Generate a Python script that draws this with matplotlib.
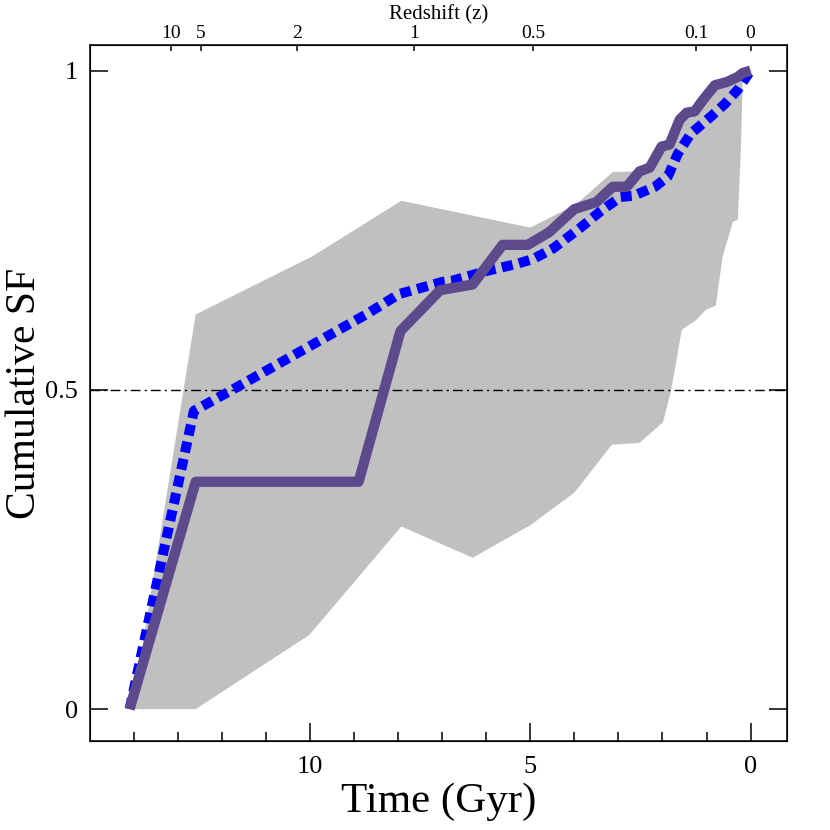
import matplotlib
matplotlib.use("Agg")
import matplotlib.pyplot as plt
import numpy as np

plt.rcParams['font.family'] = ['Liberation Serif', 'DejaVu Serif']

# %% data (lookback time in Gyr, cumulative SF fraction)
t_purple = [14.10, 12.60, 8.90, 7.95, 7.05, 6.31, 5.63, 5.06, 4.57, 4.00, 3.50, 3.13,
            2.81, 2.52, 2.29, 2.02, 1.84, 1.61, 1.45, 1.27, 1.08, 0.81, 0.54, 0.29,
            0.18, 0.00]
sf_purple = [0.000, 0.356, 0.356, 0.592, 0.656, 0.665, 0.727, 0.727, 0.747, 0.783,
             0.794, 0.818, 0.818, 0.842, 0.848, 0.881, 0.884, 0.923, 0.934, 0.936,
             0.954, 0.977, 0.982, 0.990, 0.996, 1.000]

t_blue = [14.10, 12.64, 11.77, 10.25, 8.73, 7.98, 7.00, 6.77, 6.00, 5.32, 4.93, 4.47,
          3.86, 3.40, 2.95, 2.65, 2.17, 1.88, 1.65, 1.36, 0.90, 0.58, 0.29, 0.00]
sf_blue = [0.000, 0.467, 0.500, 0.559, 0.618, 0.650, 0.669, 0.671, 0.686, 0.697,
           0.705, 0.722, 0.754, 0.780, 0.802, 0.804, 0.818, 0.834, 0.870, 0.901,
           0.928, 0.948, 0.970, 1.000]

# grey envelope: upper and lower edges
t_up = [14.04, 12.60, 9.95, 7.93, 5.00, 3.95, 3.13, 2.65, 2.30, 2.00, 1.60, 1.20,
        0.80, 0.50, 0.20, 0.15]
sf_up = [0.000, 0.618, 0.709, 0.796, 0.754, 0.791, 0.841, 0.842, 0.850, 0.880,
         0.920, 0.940, 0.975, 0.982, 0.995, 1.000]
t_lo = [14.04, 12.60, 10.02, 7.93, 6.31, 5.00, 4.00, 3.15, 2.52, 1.99, 1.81, 1.56,
        1.24, 1.02, 0.79, 0.63, 0.40, 0.29, 0.22, 0.18]
sf_lo = [0.000, 0.000, 0.116, 0.286, 0.237, 0.288, 0.339, 0.414, 0.417, 0.449,
         0.497, 0.594, 0.609, 0.625, 0.632, 0.710, 0.763, 0.766, 0.876, 0.981]

# redshift axis on top
z_labels = ['10', '5', '2', '1', '0.5', '0.1', '0']
z_times = [13.17, 12.48, 10.30, 7.64, 4.93, 1.24, 0.0]

purple = '#5D4A8C'
grey = '#C0C0C0'

# %%
fig = plt.figure(figsize=(8.3, 8.3), dpi=100)
ax = fig.add_axes([0.1084, 0.1072, 0.8394, 0.8386])

ax.fill(np.concatenate([t_up, t_lo[::-1]]), np.concatenate([sf_up, sf_lo[::-1]]),
        color=grey, lw=0, zorder=1)
ax.axhline(0.5, color='black', lw=1.0, ls=(0, (7, 3, 1.5, 3)), zorder=2)
ax.plot(t_blue, sf_blue, color='#0000FF', lw=7.2, ls=(0, (1.1, 0.65)),
        solid_joinstyle='round', dash_capstyle='butt', zorder=3)
ax.plot(t_purple, sf_purple, color=purple, lw=7.4, solid_joinstyle='round',
        solid_capstyle='butt', zorder=4)

ax.set_xlim(15.0, -0.82)
ax.set_ylim(-0.05, 1.04)

ax.set_xticks([10, 5, 0])
ax.set_xticks([14, 13, 12, 11, 9, 8, 7, 6, 4, 3, 2, 1], minor=True)
ax.set_xticklabels(['10', '5', '0'])
ax.set_yticks([0, 0.5, 1])
ax.set_yticks([0.25, 0.75], minor=True)
ax.set_yticklabels(['0', '0.5', '1'])
ax.tick_params(which='both', direction='in', top=False, right=True, width=1.1,
               colors='black', labelsize=19)
ax.tick_params(which='major', length=13)
ax.tick_params(which='minor', length=6.5)
ax.tick_params(axis='x', which='major', pad=11)
ax.tick_params(axis='y', which='major', pad=8.5)
for s in ax.spines.values():
    s.set_linewidth(1.1)

ax.set_xlabel('Time (Gyr)', fontsize=31, labelpad=3)
ax.set_ylabel('Cumulative SF', fontsize=30, labelpad=1)

# top axis: redshift
axt = ax.twiny()
axt.set_xlim(ax.get_xlim())
axt.set_xticks(z_times)
axt.set_xticklabels(z_labels)
axt.minorticks_off()
axt.tick_params(direction='in', length=4.5, width=1.1, pad=2, labelsize=14)
axt.set_xlabel('Redshift (z)', fontsize=15, labelpad=4)

fig.savefig('out.png', dpi=100)
